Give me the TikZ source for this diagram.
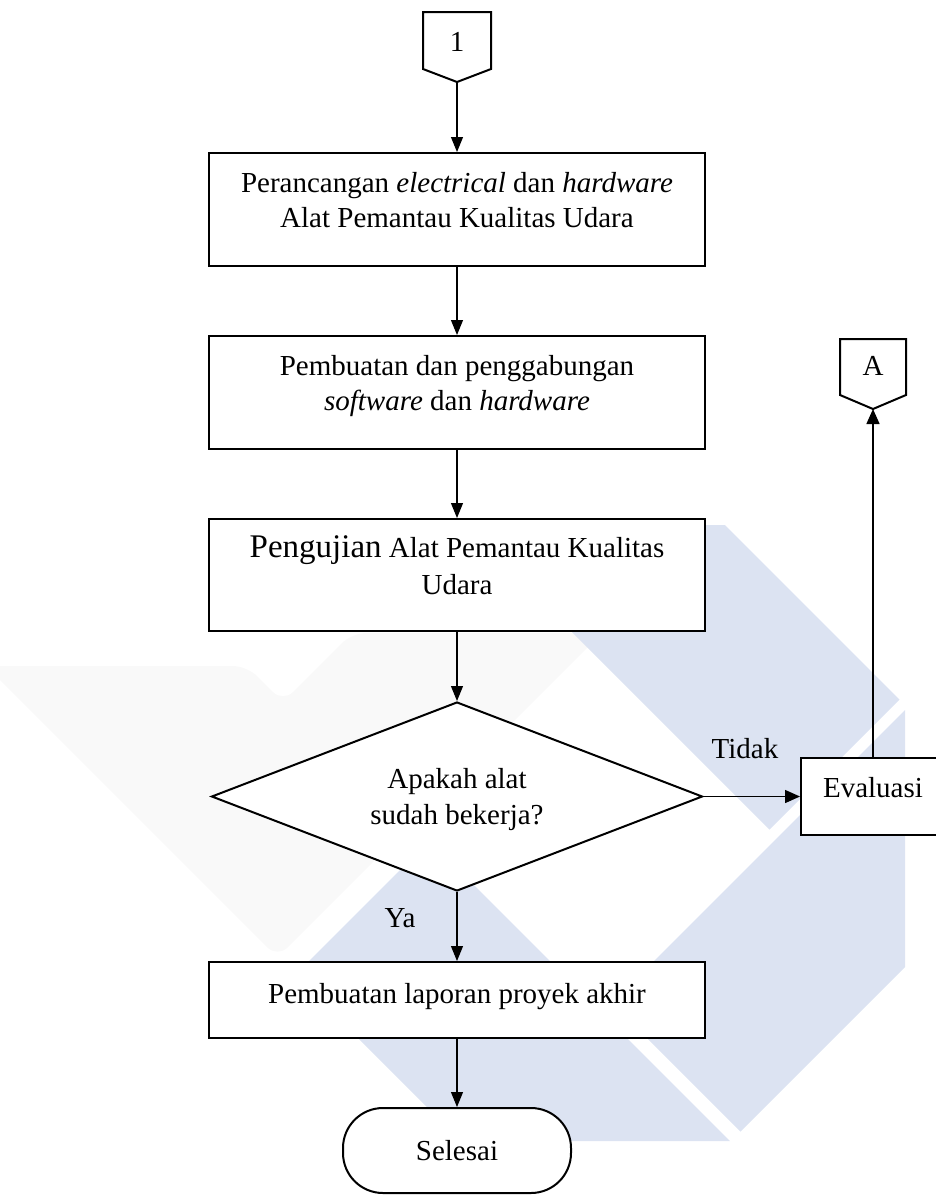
\documentclass[tikz,border=0pt]{standalone}
\usepackage{fontspec}
\setmainfont{Liberation Serif}
\usepackage{tikz}
\usetikzlibrary{shapes.geometric,arrows.meta}
\definecolor{wmblue}{RGB}{220,227,242}
\definecolor{wmgrey}{RGB}{249,249,249}
\newcommand{\deepline}[1]{\rule[-#1]{0pt}{#1}}
\newcommand{\tallline}[1]{\rule{0pt}{#1}}
\tikzstyle{none}=[inner sep=0pt]
\tikzstyle{process}=[rectangle,draw=black,fill=white,line width=2pt,minimum width=496pt,minimum height=113pt,align=center,inner sep=0pt]
\tikzstyle{decision}=[diamond,shape aspect=2.6,draw=black,fill=white,line width=2pt,minimum width=491pt,minimum height=189pt,align=center,inner sep=0pt]
\tikzstyle{terminal}=[rectangle,rounded corners=40pt,draw=black,fill=white,line width=2pt,minimum width=228pt,minimum height=85pt,inner sep=0pt]
\tikzstyle{answer}=[inner sep=0pt]
\tikzstyle{offpage}=[draw=black,fill=white,line width=2pt,line join=miter]
\tikzstyle{flow}=[-{Triangle[length=15pt,width=12pt]},line width=1.1pt]
\tikzstyle{flowthick}=[-{Triangle[length=15pt,width=13pt]},line width=1.5pt]
\tikzstyle{wmark}=[draw=none]
\pgfdeclarelayer{bglayer}
\pgfdeclarelayer{edgelayer}
\pgfdeclarelayer{nodelayer}
\pgfsetlayers{bglayer,edgelayer,nodelayer,main}
\begin{document}
\begin{tikzpicture}[x=1pt,y=-1pt,font=\fontsize{29}{35}\selectfont]
	\useasboundingbox (0,0) rectangle (936,1195);
	\begin{pgfonlayer}{bglayer}
		% watermark
		\fill [style=wmark,fill=wmgrey,rounded corners=14pt] (-14,666) -- (247,666) -- (283,702) -- (352,633) -- (602,633) -- (277.5,957.5) -- cycle;
		\fill [style=wmark,fill=wmblue] (465,525) -- (725,525) -- (899.5,699.5) -- (769.5,829.5) -- cycle;
		\fill [style=wmark,fill=wmblue] (905,710) -- (905,967) -- (740.5,1131.5) -- (612,1003) -- cycle;
		\fill [style=wmark,fill=wmblue] (295,975) -- (429.5,840.5) -- (730,1141) -- (461,1141) -- cycle;
	\end{pgfonlayer}
	\begin{pgfonlayer}{nodelayer}
		\node [style=none] (p1tl) at (423, 12) {};
		\node [style=none] (p1tr) at (491, 12) {};
		\node [style=none] (p1sr) at (491, 69) {};
		\node [style=none] (p1tip) at (457, 82) {};
		\node [style=none] (p1sl) at (423, 69) {};

		\node [style=process] (design) at (457, 209.5) {Perancangan \textit{electrical} dan \textit{hardware}\\Alat Pemantau Kualitas Udara\deepline{20pt}};
		\node [style=process] (build) at (457, 392.5) {Pembuatan dan penggabungan\\\textit{software} dan \textit{hardware}\deepline{20pt}};
		\node [style=process,minimum height=112pt] (test) at (457, 575) {{\fontsize{33}{37}\selectfont Pengujian} Alat Pemantau Kualitas\\[2pt]Udara\deepline{20pt}};
		\node [style=decision] (works) at (457, 796.5) {\tallline{26pt}Apakah alat\\[1pt]sudah bekerja?};
		\node [style=process,minimum height=76pt] (report) at (457, 1000) {Pembuatan laporan proyek akhir\deepline{13pt}};
		\node [style=terminal] (finish) at (457, 1150.5) {Selesai};
		\node [style=process,minimum width=144pt,minimum height=77pt] (eval) at (873, 796.5) {Evaluasi\deepline{18pt}};

		\node [style=none] (patl) at (840, 339) {};
		\node [style=none] (patr) at (906, 339) {};
		\node [style=none] (pasr) at (906, 395) {};
		\node [style=none] (patip) at (873, 409) {};
		\node [style=none] (pasl) at (840, 395) {};

		\node [style=answer] (no) at (745, 749) {Tidak};
		\node [style=answer] (yes) at (400, 918) {Ya};
	\end{pgfonlayer}
	\begin{pgfonlayer}{edgelayer}
		\draw [style=flow] (p1tip.center) to (design);
		\draw [style=flow] (design) to (build);
		\draw [style=flow] (build) to (test);
		\draw [style=flow] (test) to (works);
		\draw [style=flow] (works) to (report);
		\draw [style=flow] (report) to (finish);
		\draw [style=flowthick] (works) to (eval);
		\draw [style=flowthick] (eval) to (patip.center);
	\end{pgfonlayer}
	% off-page connectors
	\draw [style=offpage] (p1tl.center) -- (p1tr.center) -- (p1sr.center) -- (p1tip.center) -- (p1sl.center) -- cycle;
	\node (one) at (457, 42) {1};
	\draw [style=offpage] (patl.center) -- (patr.center) -- (pasr.center) -- (patip.center) -- (pasl.center) -- cycle;
	\node (toA) at (873, 366) {A};
\end{tikzpicture}
\end{document}
